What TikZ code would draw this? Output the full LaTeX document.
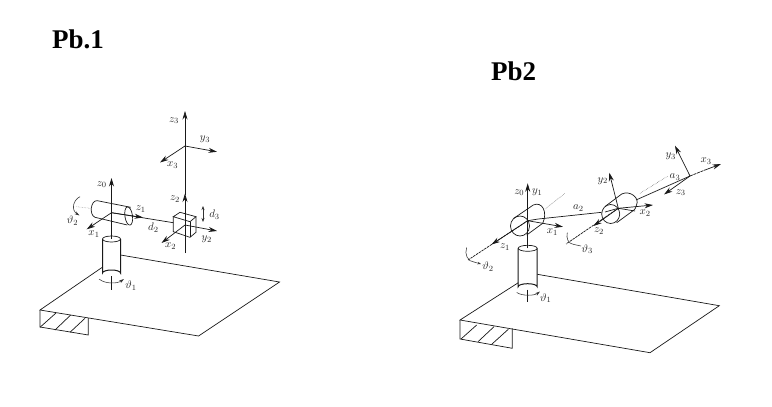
\documentclass[tikz,border=0pt]{standalone}
\usepackage{fontspec}
\setmainfont{Liberation Serif}
\usetikzlibrary{arrows.meta}
\tikzset{
  ln/.style={line width=0.7pt,black!90},
  thin line/.style={line width=0.55pt,black!80},
  ax/.style={line width=0.7pt,black!90,-{Stealth[length=8.5pt,width=5pt]}},
  dot line/.style={line width=0.45pt,black!50,densely dotted},
  lab/.style={font=\fontsize{11}{11}\selectfont,text=black!85,inner sep=0pt},
  ttl/.style={font=\fontsize{27}{27}\selectfont\bfseries,text=black,inner sep=0pt,anchor=base west},
}
\begin{document}
\begin{tikzpicture}[x=1pt,y=-1pt]
\useasboundingbox (0,0) rectangle (772,407);
\fill[white] (0,0) rectangle (772,407);
\node[ttl] (t1) at (52,48) {Pb.1};
\node[ttl] (t2) at (491,80) {Pb2};

%%% ---------- Pb.1 ----------
% platform
\coordinate (a1) at (40,310); \coordinate (a2) at (102,267.5);
\coordinate (a3) at (120.5,255); \coordinate (a4) at (279.5,282);
\coordinate (a5) at (198.6,336); \coordinate (a6) at (40,327);
\coordinate (a7) at (88.3,335); \coordinate (a8) at (88.3,318);
\draw[ln] (a2)--(a1)--(a5)--(a4)--(a3);
\draw[ln] (a1)--(a6)--(a7)--(a8);
\draw[ln] (40,327.3)--(56,313) (55,330)--(70.7,315) (70,332.3)--(85,318.3);
% base cylinder
\draw[ln,line width=1pt] (102.5,239)--(102.5,273) arc[start angle=180,end angle=360,x radius=9,y radius=3]--(120.5,239);
\draw[ln] (111.5,239) ellipse[x radius=9,y radius=3];
\draw[ln] (111.5,276)--(111.5,290);
\draw[thin line,-{Stealth[length=5pt,width=3pt]}] (99,279) .. controls (105,284) and (117,284) .. (124,279);
\node[lab] (p1t1) at (131,286) {$\vartheta_1$};
% z0 axis
\coordinate (o0) at (111.5,212.7);
\draw[ax] (111.5,239)--(111.5,178);
\node[lab] (p1z0) at (101.7,184.5) {$z_0$};
% joint cylinder
\draw[ln] (130.7,207.3)--(97.3,200.7) .. controls (90.5,200) and (89,215) .. (95,217.3)--(127.3,225);
\draw[ln] (128.7,216) ellipse[x radius=3.8,y radius=9.2,rotate=8];
\draw[dot line] (76.7,206.7)--(91.7,208.5);
\draw[ax] (o0)--(86.7,229.3);
\draw[ln] (o0)--(173.3,222.7);
\draw[ax] (o0)--(143,217.5);
\draw[thin line,-{Stealth[length=5pt,width=3pt]}] (80,196.7) .. controls (73,200) and (71,210) .. (79.5,215.5);
\node[lab] (p1t2) at (72.5,220.5) {$\vartheta_2$};
\node[lab] (p1z1) at (140.7,209) {$z_1$};
\node[lab] (p1x1) at (94,234) {$x_1$};
\node[lab] (p1d2) at (153.3,227.5) {$d_2$};
% prismatic axis
\coordinate (o2) at (185,225); \coordinate (o3) at (185,146);
\draw[ln] (185,253)--(o2);
\draw[ax] (o2)--(185,193.5);
\draw[ax] (185,195)--(185,111);
% cube
\draw[ln] (173.3,216.7)--(180,212.3)--(196,216.7)--(190,221.7)--cycle;
\draw[ln] (173.3,216.7)--(173.3,231.7)--(190,237.3)--(196,232.3)--(196,216.7);
\draw[ln] (190,221.7)--(190,237.3);
\draw[ax] (o2)--(161.5,243);
\draw[ax] (o2)--(217,231);
% frame 3
\draw[ax] (o3)--(217,151.8);
\draw[ax] (o3)--(160,162.5);
\coordinate (d3a) at (203,206); \coordinate (d3b) at (203,222);
\draw[thin line,{Stealth[length=4pt,width=3pt]}-{Stealth[length=4pt,width=3pt]}] (d3a)--(d3b);
\node[lab] (p1z3) at (174,120.7) {$z_3$};
\node[lab] (p1y3) at (205,139.5) {$y_3$};
\node[lab] (p1x3) at (172.7,165) {$x_3$};
\node[lab] (p1z2) at (175,199.3) {$z_2$};
\node[lab] (p1d3) at (214.5,215) {$d_3$};
\node[lab] (p1y2) at (206.7,239.5) {$y_2$};
\node[lab] (p1x2) at (170.7,246) {$x_2$};

%%% ---------- Pb2 ----------
% platform
\coordinate (b1) at (460,320); \coordinate (b2) at (518.3,282.7);
\coordinate (b3) at (537.3,274.3); \coordinate (b4) at (719.3,305.7);
\coordinate (b5) at (650,352.7); \coordinate (b6) at (460,339);
\coordinate (b7) at (512.3,348.3); \coordinate (b8) at (512.3,328.3);
\draw[ln] (b2)--(b1)--(b5)--(b4)--(b3);
\draw[ln] (b1)--(b6)--(b7)--(b8);
\draw[ln] (461,339)--(476.7,325) (478,341.7)--(494,326.7) (491.7,344.3)--(508.3,329.3);
% base cylinder
\draw[ln,line width=1pt] (518.2,248.3)--(518.2,286.7) arc[start angle=180,end angle=360,x radius=9.5,y radius=3]--(537.2,248.3);
\draw[ln] (527.7,248.3) ellipse[x radius=9.5,y radius=3];
\draw[ln] (527.7,289.7)--(527.7,301.7);
\draw[thin line,-{Stealth[length=5pt,width=3pt]}] (516.7,292.5) .. controls (522,296) and (534,296) .. (540,291.5);
\node[lab] (p2t1) at (545.7,298.3) {$\vartheta_1$};
% joint 1
\coordinate (c0) at (527.7,220.7);
\draw[ax] (527.7,248.3)--(527.7,183.3);
\draw[ln] (520,226) ellipse[x radius=9.5,y radius=10];
\draw[ln] (513.5,218.5)--(533.3,205) .. controls (542,201) and (548,212) .. (542.7,223.3)--(526.7,235);
\draw[ln] (c0)--(538.3,219);
\draw[dot line,black!70] (545,209)--(565,193.3);
\draw[ax] (c0)--(563,226.8);
\draw[ln,dash pattern=on 2.5pt off 0.8pt] (c0)--(468,260);
\draw[ax] (c0)--(491.5,244.5);
\draw[thin line] (466.7,247.5) .. controls (464,254) and (468,262) .. (474,262);
\draw[thin line,-{Stealth[length=3.5pt,width=2.5pt]}] (474,262) -- (481,264);
\node[lab] (p2z0) at (519.3,192.7) {$z_0$};
\node[lab] (p2y1) at (537.3,192.3) {$y_1$};
\node[lab] (p2x1) at (552.3,232.3) {$x_1$};
\node[lab] (p2z1) at (505,247.3) {$z_1$};
\node[lab] (p2t2) at (488,267) {$\vartheta_2$};
% link a2
\coordinate (c1) at (618.3,208.3);
\draw[ln] (538.3,219)--(601.7,212.3);
\node[lab] (p2a2) at (578.3,208.3) {$a_2$};
% joint 2
\draw[ln] (610.7,214) ellipse[x radius=9,y radius=9.5];
\draw[ln] (605,206.5)--(621.7,194) .. controls (630,190) and (640,198) .. (636.5,205) .. controls (636,208) and (635,209) .. (634,210)--(616.7,222.7);
\draw[ln] (605,212)--(c1)--(635,211);
\draw[ax] (c1)--(609.3,172.7);
\draw[ax] (c1)--(653,205);
\draw[ln,dash pattern=on 2.5pt off 0.8pt] (c1)--(566,244);
\draw[ax] (c1)--(593.5,226);
\draw[thin line] (567.3,232.7) .. controls (566,238) and (568,244) .. (574,244.5) .. controls (577,244.7) and (578,246) .. (581,246);
\node[lab] (p2x2) at (645,213.3) {$x_2$};
\node[lab] (p2y2) at (602.7,181) {$y_2$};
\node[lab] (p2z2) at (599,231) {$z_2$};
\node[lab] (p2t3) at (587.3,249.3) {$\vartheta_3$};
% link a3, frame 3
\coordinate (c3) at (690,176);
\draw[ln] (636,200)--(c3);
\draw[dot line,black!70] (640,193.3)--(668,176);
\draw[ax] (c3)--(675,145.7);
\draw[ln,dash pattern=on 3pt off 0.8pt] (c3)--(705,170);
\draw[ax] (705,170)--(721,164);
\draw[ax] (c3)--(664,194.5);
\node[lab] (p2a3) at (675,177.3) {$a_3$};
\node[lab] (p2x3) at (706,161) {$x_3$};
\node[lab] (p2y3) at (670.7,156.7) {$y_3$};
\node[lab] (p2z3) at (680.7,192.7) {$z_3$};
\end{tikzpicture}
\end{document}
